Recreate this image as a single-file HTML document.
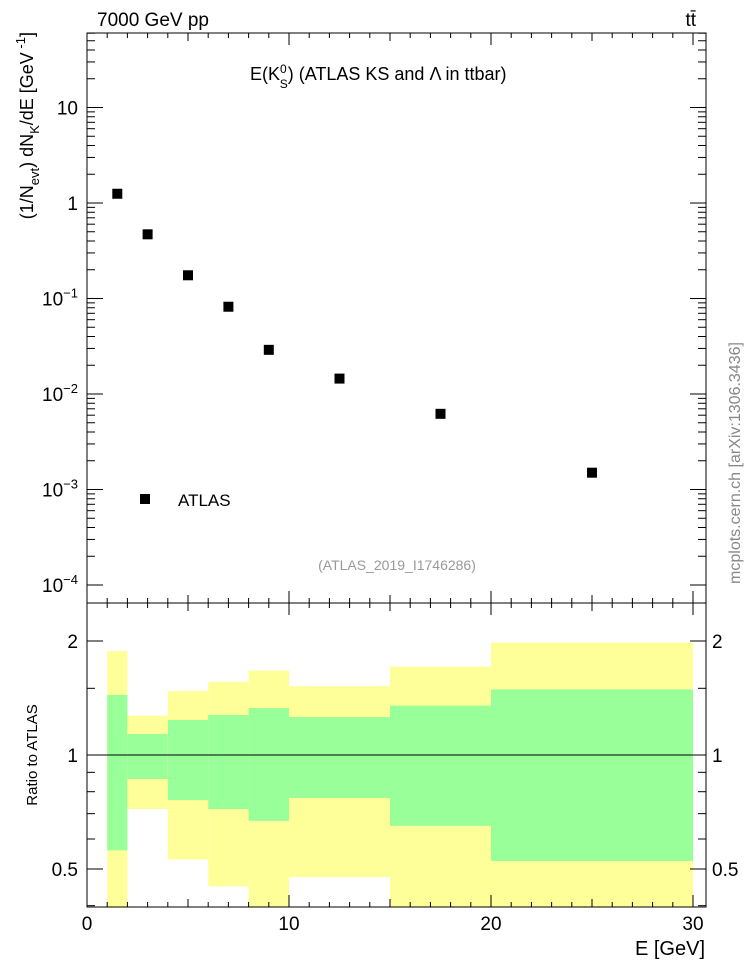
<!DOCTYPE html>
<html><head><meta charset="utf-8"><style>
body{margin:0;background:#fff;font-family:"Liberation Sans",sans-serif}
svg text{font-family:"Liberation Sans",sans-serif}
</style></head><body>
<svg id="c" width="746" height="972" xmlns="http://www.w3.org/2000/svg"></svg>
<script>
const binLo=[1,2,4,6,8,10,15,20];
const binHi=[2,4,6,8,10,15,20,30];
const xPts=[1.5,3,5,7,9,12.5,17.5,25];
const yVals=[1.25,0.47,0.175,0.082,0.029,0.0145,0.0062,0.0015];
const yelHi=[1.88,1.27,1.475,1.56,1.67,1.52,1.71,1.98];
const yelLo=[0.3,0.72,0.53,0.45,0.3,0.476,0.3,0.3];
const grnHi=[1.44,1.136,1.237,1.275,1.33,1.26,1.35,1.49];
const grnLo=[0.56,0.864,0.76,0.72,0.67,0.77,0.65,0.525];
const xTicks=[0,10,20,30];
const yTicks=[-4,-3,-2,-1,0,1];
const rTicks=[0.5,1,2];

const NS="http://www.w3.org/2000/svg";
const svg=document.getElementById('c');
function el(t,a,p){const e=document.createElementNS(NS,t);for(const k in a)e.setAttribute(k,a[k]);(p||svg).appendChild(e);return e;}
const L=87,R=706,T=33,M=603,B=907;
const X=v=>L+(v-0)*(693-87)/30;
const Y=v=>203-Math.log10(v)*95.5;
const RY=v=>755-Math.log10(v)*378.7;
const clampR=v=>Math.min(B,Math.max(M,v));

for(let i=0;i<binLo.length;i++){
  const y1=clampR(RY(yelHi[i])),y2=clampR(RY(yelLo[i]));
  const r=el('rect',{x:X(binLo[i]),y:y1,width:X(binHi[i])-X(binLo[i]),height:y2-y1,fill:'#ffff99'});
  
  
  const g1=clampR(RY(grnHi[i])),g2=clampR(RY(grnLo[i]));
  const g=el('rect',{x:X(binLo[i]),y:g1,width:X(binHi[i])-X(binLo[i]),height:g2-g1,fill:'#99ff99'});
  
  
}
el('line',{x1:L,x2:R,y1:RY(1),y2:RY(1),stroke:'#000','stroke-width':1});

const f1=el('rect',{x:L,y:T,width:R-L,height:M-T,fill:'none',stroke:'#000'});

const f2=el('rect',{x:L,y:M,width:R-L,height:B-M,fill:'none',stroke:'#000'});


for(let v=0;v<=30;v++){
  const big=v%10==0, mid=v%5==0;
  const len=big?12:(mid?8:5);
  [[T,1],[M,-1],[M,1],[B,-1]].forEach(([y,d])=>el('line',{x1:X(v),x2:X(v),y1:y,y2:y+d*len,stroke:'#000'}));
}
xTicks.forEach(v=>{const t=el('text',{x:X(v),y:930,'font-size':19,'text-anchor':'middle'});t.textContent=v;
});
const xt=el('text',{x:705,y:955,'font-size':20,'text-anchor':'end'});xt.textContent='E [GeV]';


for(let d=-4;d<=1;d++){
  for(let m=1;m<=9;m++){
    const y=Y(m*Math.pow(10,d));
    if(y<T||y>M)continue;
    const len=m==1?16:8;
    el('line',{x1:L,x2:L+len,y1:y,y2:y,stroke:'#000'});
    el('line',{x1:R,x2:R-len,y1:y,y2:y,stroke:'#000'});
  }
}
yTicks.forEach(d=>{
  const y=Y(Math.pow(10,d));
  const t=el('text',{x:78,y:y+7,'font-size':19,'text-anchor':'end'});
  
  if(d==0)t.textContent='1';else if(d==1)t.textContent='10';
  else{t.textContent='10';const s=el('tspan',{'font-size':13,dy:-8},t);s.textContent=String(d).replace('-','\u2212');}
});
const yt=el('text',{transform:'translate(33,32) rotate(-90)','font-size':18,'text-anchor':'end'});

yt.innerHTML='(1/N<tspan font-size="13" dy="6">evt</tspan><tspan dy="-6">) dN</tspan><tspan font-size="13" dy="6">K</tspan><tspan dy="-6">/dE [GeV</tspan><tspan font-size="13" dy="-8"> -1</tspan><tspan dy="8">]</tspan>';

[0.4,0.5,0.6,0.7,0.8,0.9,1,1.5,2].forEach(v=>{
  const y=RY(v); if(y<M||y>B)return;
  const len=(v==0.5||v==1||v==2)?16:8;
  el('line',{x1:L,x2:L+len,y1:y,y2:y,stroke:'#000'});
  el('line',{x1:R,x2:R-len,y1:y,y2:y,stroke:'#000'});
});
rTicks.forEach(v=>{
  const a=el('text',{x:78,y:RY(v)+7,'font-size':19,'text-anchor':'end'});a.textContent=v;
  
  const b=el('text',{x:712,y:RY(v)+7,'font-size':19});b.textContent=v;
  
});
const rt=el('text',{transform:'translate(37,755) rotate(-90)','font-size':15,'text-anchor':'middle'});rt.textContent='Ratio to ATLAS';


for(let i=0;i<xPts.length;i++){
  const p=el('rect',{x:X(xPts[i])-5,y:Y(yVals[i])-5,width:10,height:10,fill:'#000'});
  
}
const lm=el('rect',{x:140,y:494,width:10,height:10,fill:'#000'});

const lt=el('text',{x:178,y:506,'font-size':17});lt.textContent='ATLAS';


const t1=el('text',{x:97,y:26,'font-size':19});t1.textContent='7000 GeV pp';

const t2=el('text',{x:696,y:26,'font-size':19,'text-anchor':'end'});t2.textContent='tt\u0304';

const t3=el('text',{x:250,y:80,'font-size':18});

t3.innerHTML='E(K<tspan font-size="12" dy="-7">0</tspan><tspan font-size="12" dx="-7" dy="15">S</tspan><tspan dy="-8">) (ATLAS KS and Λ in ttbar)</tspan>';
const t4=el('text',{x:397,y:570,'font-size':14,fill:'#999','text-anchor':'middle'});t4.textContent='(ATLAS_2019_I1746286)';

const t5=el('text',{transform:'translate(740,463) rotate(-90)','font-size':16,fill:'#888','text-anchor':'middle'});t5.textContent='mcplots.cern.ch [arXiv:1306.3436]';

</script>
</body></html>
